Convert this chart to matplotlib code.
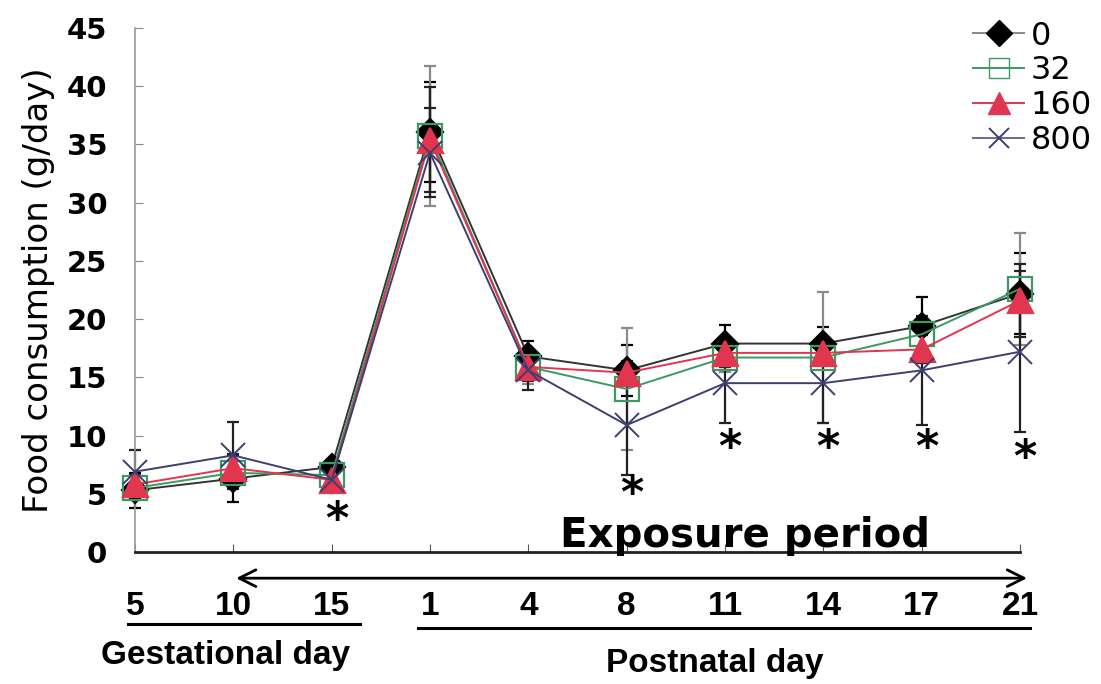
import matplotlib
matplotlib.use("Agg")
import matplotlib.pyplot as plt
from matplotlib.lines import Line2D

# ---- data ----
categories = ["5", "10", "15", "1", "4", "8", "11", "14", "17", "21"]
series_names = ["0", "32", "160", "800"]
vals_0 = [5.3, 6.3, 7.3, 36.1, 16.8, 15.6, 17.9, 17.9, 19.4, 22.2]
vals_32 = [5.5, 6.8, 6.6, 35.7, 15.9, 14.0, 16.7, 16.7, 18.7, 22.6]
vals_160 = [5.8, 7.2, 6.2, 35.4, 15.9, 15.4, 17.1, 17.1, 17.4, 21.6]
vals_800 = [6.9, 8.3, 6.2, 34.3, 15.6, 10.9, 14.5, 14.5, 15.6, 17.2]
err_0 = [1.5, 2.0, 0.6, 4.3, 1.3, 2.2, 1.6, 1.4, 2.5, 3.5]
err_32 = [1.0, 1.0, 0.8, 6.0, 1.5, 5.2, 1.2, 5.6, 1.5, 4.8]
err_160 = [0.8, 1.2, 0.7, 4.5, 1.2, 1.0, 1.2, 1.0, 1.2, 3.1]
err_800 = [1.9, 2.9, 0.8, 3.8, 1.7, 4.3, 3.4, 3.4, 4.7, 6.9]
star_positions = [2, 5, 6, 7, 8, 9]
star_heights = [2.7, 4.9, 8.9, 8.9, 8.9, 8.0]
y_ticks = [0, 5, 10, 15, 20, 25, 30, 35, 40, 45]

fig = plt.figure(figsize=(11.01, 6.84), dpi=100)
ax = fig.add_axes([0.1226, 0.193, 0.8038, 0.766])

x = list(range(len(categories)))

styles = [
    dict(vals=vals_0, err=err_0, marker="D", ms=13, mfc="black",
         mec="black", ecolor="black", lc="#333333"),
    dict(vals=vals_32, err=err_32, marker="s", ms=17, mfc="none",
         mec="#3a9a62", ecolor="#8a8a8a", lc="#3a9a62"),
    dict(vals=vals_160, err=err_160, marker="^", ms=18, mfc="#e0364f",
         mec="#e0364f", ecolor="#222222", lc="#e0364f"),
    dict(vals=vals_800, err=err_800, marker="x", ms=17, mfc="#3d3f70",
         mec="#3d3f70", ecolor="#222222", lc="#3d3f70"),
]

for name, st in zip(series_names, styles):
    ax.errorbar(x, st["vals"], yerr=st["err"], fmt="none", ecolor=st["ecolor"],
                elinewidth=1.6, capsize=4, capthick=1.6, zorder=2, clip_on=False)
for name, st in zip(series_names, styles):
    ax.plot(x, st["vals"], color=st["lc"], lw=1.4, marker=st["marker"],
            ms=st["ms"], mfc=st["mfc"], mec=st["mec"],
            mew=1.6 if st["marker"] != "x" else 1.4,
            zorder=3, clip_on=False, label=name)

ax.set_xlim(0, 9)
ax.set_ylim(0, 45)
ax.set_yticks(y_ticks)
ax.set_yticklabels([str(t) for t in y_ticks], fontsize=21, fontweight="bold",
                   family="DejaVu Sans")
ax.set_xticks(x)
ax.set_xticklabels(categories, fontsize=24, fontweight="bold",
                   family=["Liberation Sans", "DejaVu Sans"])
ax.tick_params(axis="y", direction="in", length=6, color="#888888", pad=20)
ax.tick_params(axis="x", direction="in", length=6, color="#555555", pad=28)

for s in ["top", "right"]:
    ax.spines[s].set_visible(False)
ax.spines["left"].set_color("#9a9a9a")
ax.spines["left"].set_linewidth(1.2)
ax.spines["bottom"].set_color("#222222")
ax.spines["bottom"].set_linewidth(2.0)

ax.set_ylabel("Food consumption (g/day)", fontsize=24.5, family="DejaVu Sans",
              labelpad=8)

# significance stars
for xs, ys in zip(star_positions, star_heights):
    ax.text(xs + 0.05, ys, "*", fontsize=32, fontweight="bold", ha="center", va="center",
            family="DejaVu Sans")

# exposure period text
ax.text(6.2, 1.4, "Exposure period", fontsize=29, fontweight="bold", ha="center",
        va="center", family="DejaVu Sans")

# double-headed arrow (axes-fraction y, data x)
trans = ax.get_xaxis_transform()
ax.annotate("", xy=(1.0, -0.05), xytext=(9.1, -0.05), xycoords=trans, textcoords=trans,
            arrowprops=dict(arrowstyle="<->", lw=2.0, color="black",
                            mutation_scale=30), annotation_clip=False)

# underlines for groups
ax.plot([-0.07, 2.29], [-0.137, -0.137], transform=trans, color="black", lw=2.2,
        clip_on=False)
ax.plot([2.88, 9.1], [-0.145, -0.145], transform=trans, color="black", lw=2.2,
        clip_on=False)
ax.text(0.92, -0.197, "Gestational day", transform=trans, fontsize=24,
        fontweight="bold", ha="center", va="center",
        family=["Liberation Sans", "DejaVu Sans"])
ax.text(5.9, -0.212, "Postnatal day", transform=trans, fontsize=24,
        fontweight="bold", ha="center", va="center",
        family=["Liberation Sans", "DejaVu Sans"])

# legend
handles = [
    Line2D([], [], color="#888888", lw=1.4, marker="D", ms=13, mfc="black", mec="black"),
    Line2D([], [], color="#3a9a62", lw=1.4, marker="s", ms=15, mfc="none", mec="#3a9a62"),
    Line2D([], [], color="#e0364f", lw=1.4, marker="^", ms=16, mfc="#e0364f", mec="#e0364f"),
    Line2D([], [], color="#6a6a8a", lw=1.4, marker="x", ms=15, mec="#3d3f70", mew=1.4),
]
fig.legend(handles, series_names, loc="upper right", bbox_to_anchor=(1.018, 1.012),
           frameon=False, handlelength=1.6, handletextpad=0.2,
           labelspacing=0.12, prop={"family": "DejaVu Sans", "size": 23})

fig.savefig("out.png", dpi=100)
